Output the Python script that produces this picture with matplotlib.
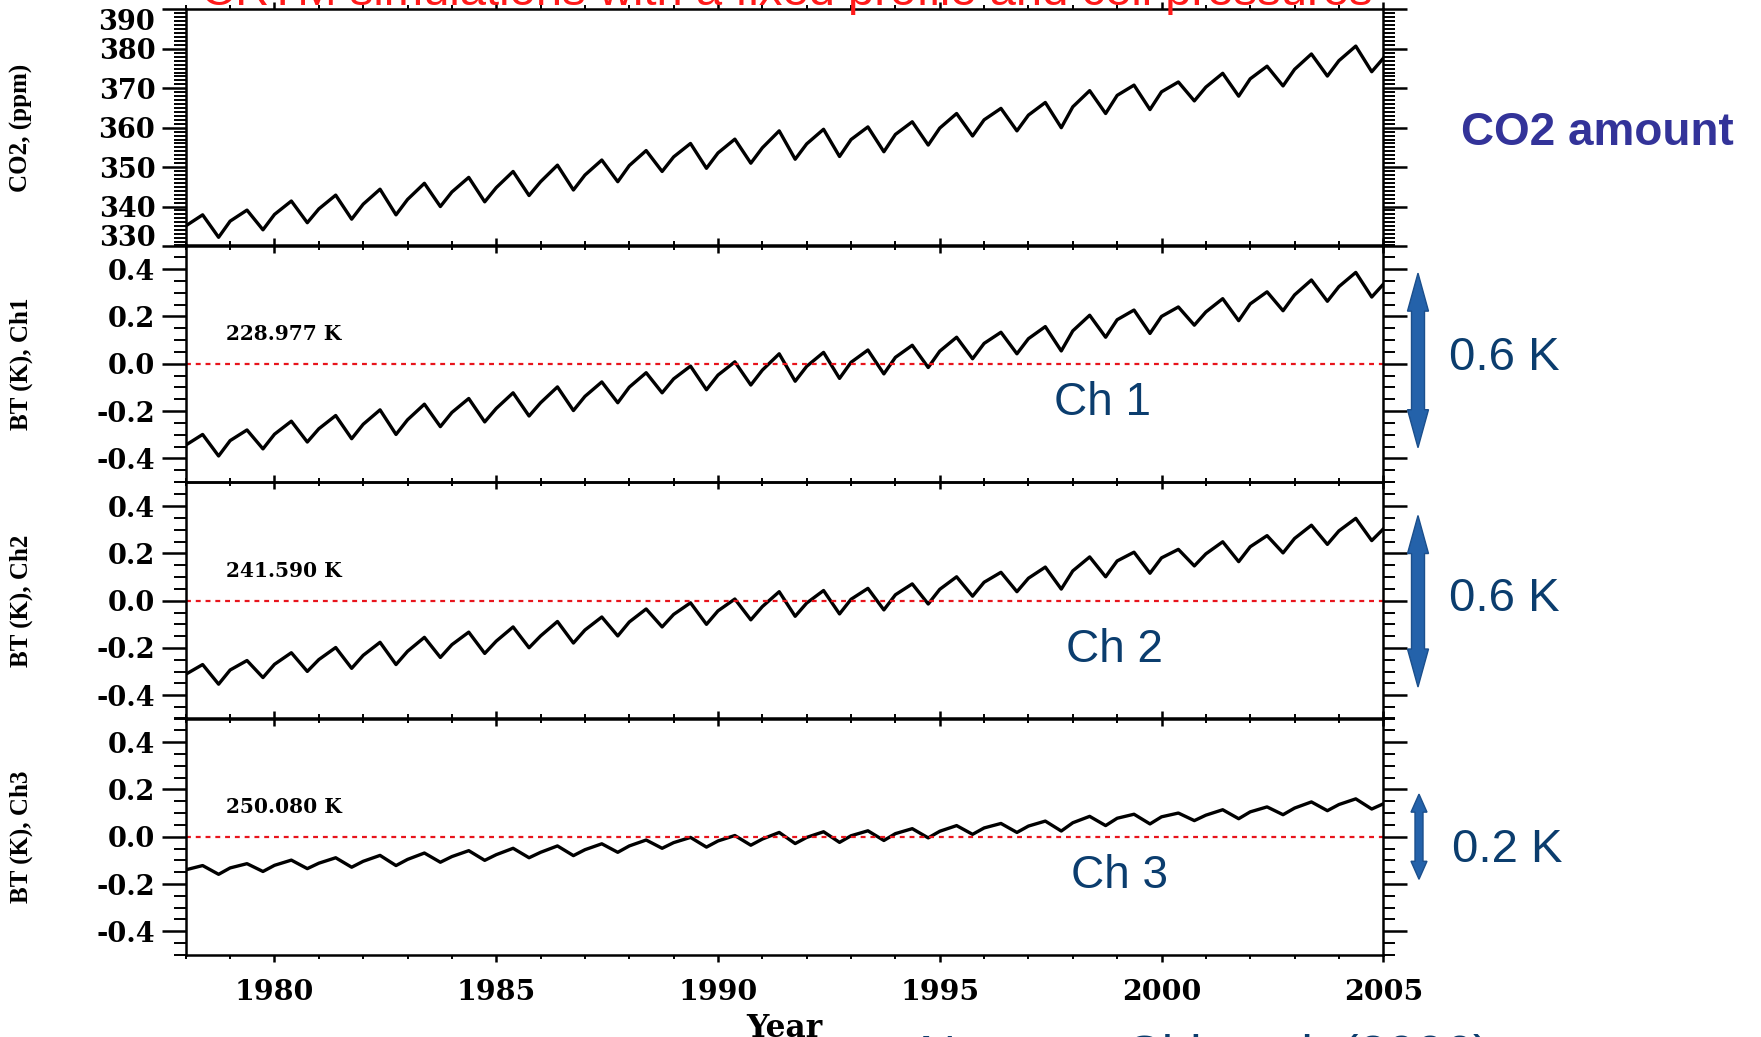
import matplotlib
matplotlib.use("Agg")
import matplotlib.pyplot as plt
from matplotlib.ticker import MultipleLocator, FormatStrFormatter
from matplotlib.patches import Polygon
from matplotlib.transforms import blended_transform_factory

plt.rcParams["font.family"] = ["DejaVu Serif"]
plt.rcParams["font.weight"] = "bold"
plt.rcParams["axes.unicode_minus"] = False

# ---------------- data ----------------
jan_years = list(range(1978, 2006))        # value at start of each year
cycle_years = list(range(1978, 2005))      # seasonal peak / trough years
peak_phase = 0.38
trough_phase = 0.74

co2_jan = [335.1, 336.3, 338.0, 339.4, 340.6, 341.8, 343.7, 344.8, 346.3, 348.0,
           350.4, 352.6, 353.6, 354.9, 355.9, 357.0, 358.3, 359.9, 362.0, 363.2,
           365.3, 368.2, 369.1, 370.3, 372.4, 374.8, 377.0, 377.6]
co2_peak = [337.9, 339.1, 341.4, 342.9, 344.4, 345.9, 347.4, 348.9, 350.5, 351.8,
            354.2, 356.0, 357.1, 359.2, 359.6, 360.2, 361.5, 363.6, 364.9, 366.4,
            369.4, 370.8, 371.6, 373.8, 375.6, 378.7, 380.7]
co2_trough = [332.2, 334.1, 335.9, 336.8, 337.9, 340.0, 341.2, 342.8, 344.2, 346.3,
              348.9, 349.7, 351.0, 352.0, 352.7, 353.9, 355.6, 357.9, 359.2, 360.0,
              363.6, 364.6, 366.8, 368.0, 370.6, 373.1, 374.2]

ch1_jan = [-0.344, -0.325, -0.298, -0.275, -0.256, -0.237, -0.206, -0.189, -0.165, -0.138,
           -0.099, -0.064, -0.048, -0.027, -0.011, 0.006, 0.027, 0.053, 0.086, 0.106,
           0.139, 0.186, 0.200, 0.219, 0.253, 0.291, 0.326, 0.336]
ch1_peak = [-0.299, -0.280, -0.243, -0.219, -0.195, -0.171, -0.147, -0.123, -0.098, -0.077,
            -0.038, -0.010, 0.008, 0.042, 0.048, 0.058, 0.078, 0.112, 0.133, 0.157,
            0.205, 0.227, 0.240, 0.275, 0.304, 0.354, 0.386]
ch1_trough = [-0.390, -0.360, -0.331, -0.317, -0.299, -0.266, -0.246, -0.221, -0.198, -0.165,
              -0.123, -0.110, -0.090, -0.074, -0.062, -0.043, -0.016, 0.021, 0.042, 0.054,
              0.112, 0.128, 0.163, 0.182, 0.224, 0.264, 0.282]

ch2_jan = [-0.311, -0.293, -0.269, -0.249, -0.231, -0.214, -0.186, -0.171, -0.149, -0.124,
           -0.090, -0.058, -0.043, -0.025, -0.010, 0.006, 0.025, 0.048, 0.078, 0.095,
           0.126, 0.168, 0.181, 0.198, 0.228, 0.263, 0.295, 0.303]
ch2_peak = [-0.270, -0.253, -0.220, -0.198, -0.176, -0.155, -0.133, -0.111, -0.088, -0.069,
            -0.035, -0.009, 0.007, 0.038, 0.043, 0.052, 0.071, 0.101, 0.120, 0.142,
            0.185, 0.205, 0.217, 0.249, 0.275, 0.319, 0.348]
ch2_trough = [-0.353, -0.325, -0.299, -0.286, -0.270, -0.240, -0.223, -0.199, -0.179, -0.149,
              -0.111, -0.100, -0.081, -0.066, -0.056, -0.039, -0.014, 0.019, 0.038, 0.049,
              0.101, 0.116, 0.147, 0.165, 0.202, 0.238, 0.254]

ch3_jan = [-0.140, -0.132, -0.121, -0.112, -0.104, -0.096, -0.084, -0.076, -0.066, -0.055,
           -0.039, -0.025, -0.018, -0.010, -0.003, 0.004, 0.013, 0.023, 0.037, 0.045,
           0.059, 0.078, 0.084, 0.091, 0.105, 0.121, 0.136, 0.139]
ch3_peak = [-0.122, -0.114, -0.099, -0.089, -0.079, -0.069, -0.059, -0.049, -0.039, -0.030,
            -0.014, -0.003, 0.005, 0.018, 0.021, 0.025, 0.034, 0.047, 0.056, 0.066,
            0.086, 0.095, 0.100, 0.114, 0.126, 0.147, 0.160]
ch3_trough = [-0.159, -0.147, -0.135, -0.129, -0.122, -0.108, -0.100, -0.089, -0.080, -0.066,
              -0.049, -0.044, -0.036, -0.029, -0.024, -0.016, -0.005, 0.010, 0.018, 0.024,
              0.047, 0.054, 0.068, 0.076, 0.093, 0.110, 0.117]

ylabels = ["CO2, (ppm)", "BT (K), Ch1", "BT (K), Ch2", "BT (K), Ch3"]
mean_bt = ["228.977 K", "241.590 K", "250.080 K"]
ch_names = ["Ch 1", "Ch 2", "Ch 3"]
range_labels = ["0.6 K", "0.6 K", "0.2 K"]
title = "CRTM simulations with a fixed profile and cell pressures"
credit = "Nguyen, Chi et al. (2006)"


def build_series(jan, peak, trough):
    t, v = [], []
    for i, yr in enumerate(cycle_years):
        t += [jan_years[i], yr + peak_phase, yr + trough_phase]
        v += [jan[i], peak[i], trough[i]]
    t.append(jan_years[-1])
    v.append(jan[-1])
    return t, v


series = [build_series(co2_jan, co2_peak, co2_trough),
          build_series(ch1_jan, ch1_peak, ch1_trough),
          build_series(ch2_jan, ch2_peak, ch2_trough),
          build_series(ch3_jan, ch3_peak, ch3_trough)]

# ---------------- figure ----------------
fig = plt.figure(figsize=(17.61, 10.37), dpi=100)
L, W, H = 0.1055, 0.6800, 0.2281
bottoms = [0.7628, 0.5352, 0.3067, 0.0791]
times_bold = ["Liberation Serif", "DejaVu Serif"]
axes = []
for k, b in enumerate(bottoms):
    ax = fig.add_axes([L, b, W, H])
    ax.set_facecolor("none")
    t, v = series[k]
    ax.plot(t, v, color="black", lw=2.4, solid_joinstyle="round")
    ax.set_xlim(1978, 2005)
    ax.xaxis.set_major_locator(MultipleLocator(5))
    ax.xaxis.set_minor_locator(MultipleLocator(1))
    if k == 0:
        ax.set_ylim(330, 390)
        ax.yaxis.set_major_locator(MultipleLocator(10))
        ax.yaxis.set_minor_locator(MultipleLocator(1))
        ax.yaxis.set_major_formatter(FormatStrFormatter("%d"))
    else:
        ax.set_ylim(-0.5, 0.5)
        ax.yaxis.set_major_locator(MultipleLocator(0.2))
        ax.yaxis.set_minor_locator(MultipleLocator(0.05))
        ax.yaxis.set_major_formatter(FormatStrFormatter("%.1f"))
        ax.axhline(0, color="#e8141c", lw=1.6, linestyle=(0, (2.2, 2.2)))
        ax.text(1978.9, 0.125, mean_bt[k - 1], fontsize=14.5, fontweight="bold",
                va="center", ha="left")
    for sp in ax.spines.values():
        sp.set_linewidth(1.8)
    ax.tick_params(axis="y", which="both", direction="out", left=True, right=True,
                   labelsize=19.5, pad=5)
    ax.tick_params(axis="y", which="major", length=17, width=1.8)
    ax.tick_params(axis="y", which="minor", length=8.5, width=1.4)
    ax.tick_params(axis="x", which="both", direction="out", top=True, bottom=True,
                   labelbottom=(k == 3), labelsize=20.5, pad=12)
    ax.tick_params(axis="x", which="major", length=5, width=1.8)
    ax.tick_params(axis="x", which="minor", length=3, width=1.4)
    ax.set_ylabel(ylabels[k], fontsize=18, fontweight="bold", family=times_bold)
    ax.yaxis.set_label_coords(-0.128, 0.5)
    axes.append(ax)

# IDL style: end labels of the CO2 axis sit inside the axis range
fig.canvas.draw()
for lab in axes[0].get_yticklabels():
    if lab.get_text() == "390":
        lab.set_verticalalignment("top")
    elif lab.get_text() == "330":
        lab.set_verticalalignment("baseline")

axes[3].set_xlabel("Year", fontsize=22.5, fontweight="bold", labelpad=5)

# ---------------- annotations ----------------
sans = ["Liberation Sans", "DejaVu Sans"]
fig.text(0.447, 1 - 5 / 1037, title, color="#ff1a1a", fontsize=34, family=sans,
         fontweight="normal", ha="center", va="baseline")
fig.text(0.907, 0.8715, "CO2 amount", color="#333399", fontsize=33, family=sans,
         fontweight="bold", ha="center", va="center")
fig.text(0.684, -0.0335, credit, color="#0b3d6e", fontsize=37, family=sans,
         fontweight="normal", ha="center", va="baseline")

navy = "#0b3d6e"
ch_pos = [(0.6258, 0.6117), (0.6326, 0.3735), (0.636, 0.1555)]
rng_pos = [(0.823, 0.6545), (0.823, 0.4220), (0.8245, 0.1800)]
for i in range(3):
    fig.text(ch_pos[i][0], ch_pos[i][1], ch_names[i], color=navy, fontsize=33,
             family=sans, fontweight="normal", ha="center", va="center")
    fig.text(rng_pos[i][0], rng_pos[i][1], range_labels[i], color=navy, fontsize=34,
             family=sans, fontweight="normal", ha="left", va="center")

# double-headed block arrows (x in figure pixels -> fraction, y in data units)
arrow_specs = [  # axis index, x px, y bottom, y top, shaft px, head px, head length px
    (1, 1418, -0.355, 0.383, 13, 21, 38),
    (2, 1418, -0.365, 0.360, 13, 21, 38),
    (3, 1419, -0.180, 0.180, 8, 16, 18),
]
figw, panel_px = 1761.0, 236.5
for ai, xpx, y0, y1, sw, hw, hl in arrow_specs:
    ax = axes[ai]
    tr = blended_transform_factory(fig.transFigure, ax.transData)
    xc = xpx / figw
    s = sw / 2 / figw
    h = hw / 2 / figw
    hl_d = hl / panel_px * (ax.get_ylim()[1] - ax.get_ylim()[0])
    verts = [(xc, y1), (xc + h, y1 - hl_d), (xc + s, y1 - hl_d), (xc + s, y0 + hl_d),
             (xc + h, y0 + hl_d), (xc, y0), (xc - h, y0 + hl_d), (xc - s, y0 + hl_d),
             (xc - s, y1 - hl_d), (xc - h, y1 - hl_d)]
    poly = Polygon(verts, closed=True, transform=tr, facecolor="#2462aa",
                   edgecolor="#1b4f8c", lw=1.0, clip_on=False)
    fig.add_artist(poly)

fig.savefig("out.png", dpi=100)
